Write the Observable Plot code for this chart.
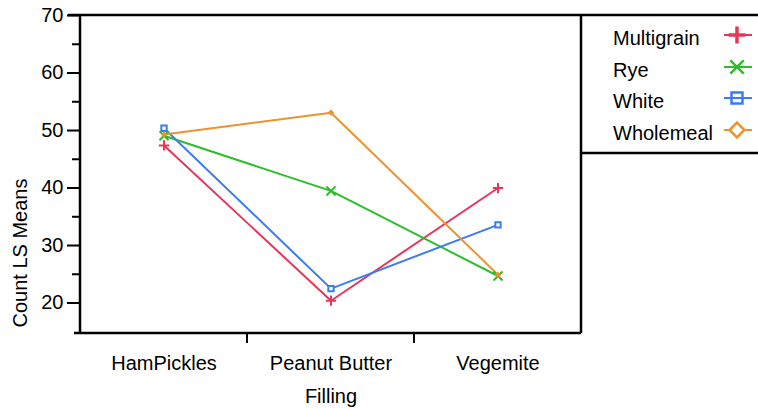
<!DOCTYPE html>
<html>
<head>
<meta charset="utf-8">
<script src="https://cdn.jsdelivr.net/npm/d3@7"></script>
<script src="https://cdn.jsdelivr.net/npm/@observablehq/plot@0.6"></script>
<style>
  html, body { margin: 0; padding: 0; background: #fff; }
  #chart svg { display: block; }
</style>
</head>
<body>
<div id="chart"></div>
<script>
const fillings = ["HamPickles", "Peanut Butter", "Vegemite"];
const breads = ["Multigrain", "Rye", "White", "Wholemeal"];
const multigrain = [47.4, 20.4, 40.0];
const rye = [49.1, 39.5, 24.7];
const white = [50.4, 22.5, 33.6];
const wholemeal = [49.3, 53.1, 24.9];
const colors = ["#e8365a", "#2dbd2d", "#3b7cf0", "#ec922f"];
const majorTicks = [20, 30, 40, 50, 60, 70];
const minorTicks = [25, 35, 45, 55, 65];
const xLabel = "Filling";
const yLabel = "Count LS Means";

(function () {
const series = [multigrain, rye, white, wholemeal];
const rows = [];
breads.forEach((b, i) => fillings.forEach((f, j) => rows.push({bread: b, filling: f, value: series[i][j]})));
const of = b => rows.filter(d => d.bread === b);
const C = {value: "bread", scale: "color"};

const font = "Liberation Sans, Arial, sans-serif";

const plot = Plot.plot({
  width: 758,
  height: 409,
  marginLeft: 79,
  marginRight: 176,
  marginTop: 15,
  marginBottom: 76,
  style: {fontFamily: font, fontSize: "20px", color: "#000", background: "#fff", overflow: "visible"},
  x: {type: "band", domain: fillings, padding: 0, axis: null},
  y: {domain: [14.7, 70], axis: null},
  color: {type: "ordinal", domain: breads, range: colors},
  marks: [
    Plot.axisY({ticks: majorTicks, tickSize: 12, tickPadding: 4, strokeWidth: 2, fontSize: 20, label: null, tickFormat: d => String(d)}),
    Plot.axisY({ticks: minorTicks, tickSize: 7, strokeWidth: 2, label: null, tickFormat: () => ""}),
    Plot.axisX({tickSize: 0, tickPadding: 22, fontSize: 20, label: null}),
    Plot.line(rows, {x: "filling", y: "value", z: "bread", stroke: C, strokeWidth: 2}),
    Plot.dot(of("Multigrain"), {x: "filling", y: "value", symbol: "plus", r: 3.4, stroke: C, strokeWidth: 2}),
    Plot.dot(of("Rye"), {x: "filling", y: "value", symbol: "times", r: 4.2, stroke: C, strokeWidth: 2}),
    Plot.dot(of("White"), {x: "filling", y: "value", symbol: "square2", r: 3.4, stroke: C, fill: "white", strokeWidth: 2}),
    Plot.dot(of("Wholemeal"), {x: "filling", y: "value", symbol: "diamond2", r: 2.4, fill: C, stroke: C, strokeWidth: 1}),
    Plot.text([xLabel], {frameAnchor: "bottom", dy: 63, lineAnchor: "middle", fontSize: 20, text: d => d})
  ]
});

document.getElementById("chart").appendChild(plot);

const svg = d3.select(plot);
const xs = plot.scale("x");
const ys = plot.scale("y");
const xLeft = xs.apply(fillings[0]);
const bw = xs.bandwidth;
const xRight = xs.apply(fillings[fillings.length - 1]) + bw;
const yTop = ys.apply(70);
const yBottom = ys.apply(14.7);
const g = svg.append("g").attr("stroke", "#000").attr("stroke-width", 2.5).attr("fill", "none");
g.append("line").attr("x1", xLeft - 12).attr("x2", 758).attr("y1", yTop).attr("y2", yTop);
g.append("line").attr("x1", xLeft).attr("x2", xLeft).attr("y1", yTop).attr("y2", yBottom);
g.append("line").attr("x1", xLeft - 6).attr("x2", xRight).attr("y1", yBottom).attr("y2", yBottom);
g.append("line").attr("x1", xRight).attr("x2", xRight).attr("y1", yTop).attr("y2", yBottom);
g.append("line").attr("x1", xRight).attr("x2", 758).attr("y1", 153).attr("y2", 153);
fillings.slice(1).forEach(f => {
  const xx = xs.apply(f);
  g.append("line").attr("x1", xx).attr("x2", xx).attr("y1", yBottom).attr("y2", yBottom + 10).attr("stroke-width", 2);
});

// y axis title
svg.append("text")
  .attr("transform", "translate(20,253) rotate(-90)")
  .attr("text-anchor", "middle").attr("dy", "0.35em")
  .attr("font-family", font).attr("font-size", 20).attr("fill", "#000")
  .text(yLabel);

// legend
const lg = svg.append("g").attr("font-family", font).attr("font-size", 20).attr("text-anchor", "start");
const rowY = [38, 70, 101, 133];
const symbols = [d3.symbolPlus, d3.symbolTimes, d3.symbolSquare, d3.symbolDiamond2];
const symSize = [95, 120, 120, 140];
breads.forEach((b, i) => {
  const y = rowY[i];
  lg.append("text").attr("x", 613).attr("y", y).attr("dy", "0.35em").attr("fill", "#000").text(b);
  const my = y - 3;
  lg.append("line").attr("x1", 724).attr("x2", 752).attr("y1", my).attr("y2", my)
    .attr("stroke", colors[i]).attr("stroke-width", 2);
  lg.append("path").attr("transform", `translate(737,${my})`)
    .attr("d", d3.symbol(symbols[i], symSize[i])())
    .attr("fill", i >= 2 ? "#fff" : "none")
    .attr("stroke", colors[i]).attr("stroke-width", i === 0 ? 3.5 : 2.5);
  if (i === 2) {
    lg.append("line").attr("x1", 731).attr("x2", 743).attr("y1", my).attr("y2", my)
      .attr("stroke", colors[i]).attr("stroke-width", 2);
  }
});
})();
</script>
</body>
</html>
